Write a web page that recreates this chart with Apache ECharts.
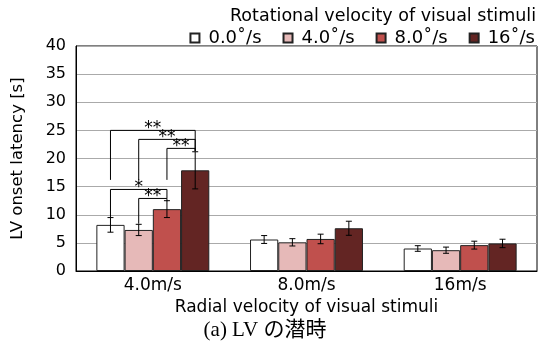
<!DOCTYPE html>
<html><head><meta charset="utf-8">
<script src="https://cdn.jsdelivr.net/npm/echarts@6/dist/echarts.min.js"></script>
<style>html,body{margin:0;padding:0;background:#fff}#c{width:547px;height:345px}</style>
</head><body><div id="c"></div>
<script>
const categories = ['4.0m/s', '8.0m/s', '16m/s'];
const seriesNames = ['0.0˚/s', '4.0˚/s', '8.0˚/s', '16˚/s'];
const colors = ['#ffffff', '#e6b9b8', '#c0504d', '#632523'];
const means0 = [8.2, 5.6, 4.0];
const means4 = [7.3, 5.1, 3.7];
const means8 = [11.0, 5.7, 4.6];
const means16 = [17.9, 7.6, 4.9];
const err0 = [1.3, 0.7, 0.5];
const err4 = [1.0, 0.65, 0.55];
const err8 = [1.5, 0.85, 0.7];
const err16 = [3.3, 1.25, 0.75];
// brackets: [category, fromSeries, toSeries, top, leftBottom, rightBottom, label]
const brackets = [
  [0, 0, 3, 25.0, 16.2, 21.3, '**'],
  [0, 1, 3, 23.4, 16.2, 21.3, '**'],
  [0, 2, 3, 21.8, 16.2, 21.3, '**'],
  [0, 0, 2, 14.5, 9.5, 12.9, '*'],
  [0, 1, 2, 12.9, 8.4, 12.4, '**']
];
const yTicks = {min: 0, max: 40, interval: 5};

const means = [means0, means4, means8, means16];
const errs = [err0, err4, err8, err16];
const GAP = 0.265;
const FONT = '"DejaVu Sans", "Noto Sans CJK JP", sans-serif';

function barX(api, cat, s) {
  const c = api.coord([cat, 0])[0];
  const bw = api.size([1, 0])[0] * (1 - GAP) / 4;
  return c + (s - 1.5) * bw;
}

const errData = [];
for (let s = 0; s < 4; s++) for (let k = 0; k < categories.length; k++) errData.push([k, s, means[s][k], errs[s][k]]);

const chart = echarts.init(document.getElementById('c'), null, {renderer: 'canvas'});
const series = seriesNames.map((n, s) => ({
  name: n, type: 'bar', data: means[s], barGap: '0%', barCategoryGap: (GAP * 100) + '%',
  itemStyle: {color: colors[s], borderColor: '#222', borderWidth: 1},
  emphasis: {disabled: true}, animation: false
}));
series.push({
  type: 'custom', data: errData, animation: false, z: 5,
  renderItem: (p, api) => {
    const cat = api.value(0), s = api.value(1), m = api.value(2), e = api.value(3);
    const x = barX(api, cat, s);
    const y1 = api.coord([cat, m + e])[1], y2 = api.coord([cat, m - e])[1];
    const st = {stroke: '#000', lineWidth: 1};
    return {type: 'group', children: [
      {type: 'line', shape: {x1: x, y1: y1, x2: x, y2: y2}, style: st},
      {type: 'line', shape: {x1: x - 3, y1: y1, x2: x + 3, y2: y1}, style: st},
      {type: 'line', shape: {x1: x - 3, y1: y2, x2: x + 3, y2: y2}, style: st}
    ]};
  }
});
series.push({
  type: 'custom', data: brackets.map(b => b.slice(0, 6)), animation: false, z: 6,
  renderItem: (p, api) => {
    const b = brackets[p.dataIndex];
    const cat = b[0];
    const xa = barX(api, cat, b[1]), xb = barX(api, cat, b[2]);
    const yt = api.coord([cat, b[3]])[1];
    const yl = api.coord([cat, b[4]])[1], yr = api.coord([cat, b[5]])[1];
    return {type: 'group', children: [
      {type: 'polyline', shape: {points: [[xa, yl], [xa, yt], [xb, yt], [xb, yr]]}, style: {stroke: '#000', lineWidth: 1, fill: null}},
      {type: 'text', style: {text: b[6], x: (xa + xb) / 2, y: yt - 10, align: 'center', verticalAlign: 'top', font: '17px "DejaVu Sans", sans-serif', fill: '#000'}}
    ]};
  }
});

chart.setOption({
  animation: false,
  textStyle: {fontFamily: FONT},
  title: [
    {text: 'Rotational velocity of visual stimuli', right: 6, top: 3, textStyle: {fontSize: 17.5, fontWeight: 'normal', color: '#000', fontFamily: FONT}},
    {text: '(a) LV の潜時', left: 260, textAlign: 'center', top: 315, textStyle: {fontSize: 21, fontWeight: 'normal', color: '#000', fontFamily: '"Liberation Serif", "Noto Sans CJK JP", serif'}}
  ],
  legend: {data: seriesNames, right: 7, top: 24, icon: 'rect', itemWidth: 9, itemHeight: 9, itemGap: 21,
    textStyle: {fontSize: 18, color: '#000', fontFamily: FONT, padding: [0, 0, 0, 4]}, selectedMode: false},
  grid: {left: 76, right: 10, top: 46, bottom: 74, show: true, borderColor: '#000', borderWidth: 1},
  xAxis: {type: 'category', data: categories, axisTick: {show: false},
    axisLine: {lineStyle: {color: '#000', width: 1}},
    axisLabel: {color: '#000', fontSize: 17, margin: 6},
    name: 'Radial velocity of visual stimuli', nameLocation: 'middle', nameGap: 26,
    nameTextStyle: {color: '#000', fontSize: 17}},
  yAxis: {type: 'value', min: yTicks.min, max: yTicks.max, interval: yTicks.interval,
    axisLine: {show: true, lineStyle: {color: '#000'}}, axisTick: {show: false},
    axisLabel: {color: '#000', fontSize: 16, margin: 10},
    splitLine: {lineStyle: {color: '#aaa', width: 1}},
    name: 'LV onset latency [s]', nameLocation: 'middle', nameGap: 50,
    nameTextStyle: {color: '#000', fontSize: 16.5}},
  series: series
});
</script></body></html>
